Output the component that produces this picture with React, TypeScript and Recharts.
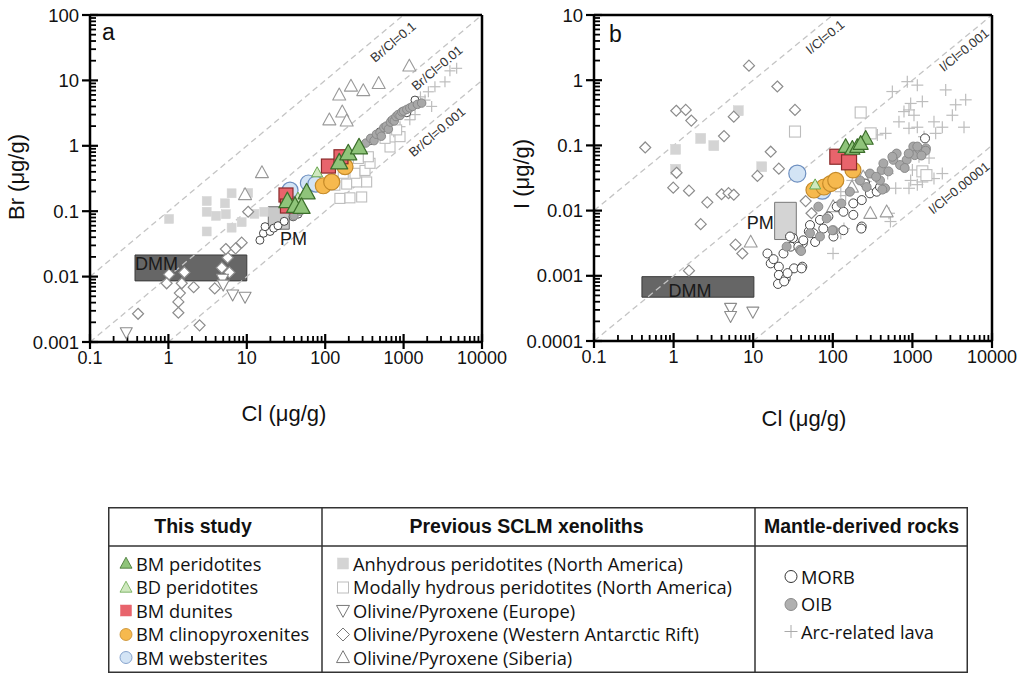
import React from 'react';
import { ScatterChart, Scatter, XAxis, YAxis, ReferenceLine, ReferenceArea, ReferenceDot } from 'recharts';

type Pair = [number, number];

// ---------- Panel a: Br vs Cl ----------
const aBMPeridotites: Pair[] = [[32.9, 0.143], [41.2, 0.121], [58, 0.195], [151, 0.56], [197, 0.77], [270, 0.95], [50, 0.117]];
const aBDPeridotites: Pair[] = [[79, 0.39], [45, 0.16]];
const aBMDunites: Pair[] = [[110, 0.49], [159, 0.68], [31.6, 0.177], [33, 0.12]];
const aBMClinopyroxenites: Pair[] = [[94.6, 0.245], [121, 0.28], [179, 0.48]];
const aBMWebsterites: Pair[] = [[35.6, 0.21], [61, 0.27], [76, 0.26]];
const aAnhydrous: Pair[] = [[1.02, 0.076], [3.08, 0.143], [3.08, 0.098], [4.05, 0.085], [5.27, 0.132], [5.4, 0.09], [6.4, 0.188], [10.4, 0.19], [3.08, 0.049], [6.4, 0.056], [8.6, 0.068], [12.5, 0.091], [16.7, 0.098]];
const aHydrous: Pair[] = [[154, 0.157], [207, 0.16], [292, 0.165], [133, 0.25], [188, 0.26], [252, 0.28], [338, 0.28], [170, 0.38], [240, 0.38], [322, 0.42], [373, 0.54], [265, 0.64], [355, 0.68], [671, 0.96], [580, 1.3], [900, 1.38], [815, 1.75]];
const aEurope: Pair[] = [[0.29, 0.0014], [4.9, 0.0092], [5.0, 0.0075], [6.6, 0.0053], [9.5, 0.0049]];
const aAntarctic: Pair[] = [[1.02, 0.0108], [1.6, 0.0116], [0.95, 0.0079], [1.48, 0.0079], [2.1, 0.0069], [1.4, 0.0056], [1.34, 0.0041], [1.34, 0.0028], [0.41, 0.0027], [2.5, 0.0018], [3.9, 0.0066], [4.8, 0.0137], [6.0, 0.0116], [5.7, 0.0195], [5.4, 0.0264], [7.2, 0.027], [8.6, 0.033], [10.4, 0.098]];
const aSiberia: Pair[] = [[1183, 16.6], [151, 6.0], [213, 8.2], [306, 7.0], [481, 9.0], [165, 3.3], [113, 2.5], [188, 2.4], [15.6, 0.39], [9.5, 0.18]];
const aMORB: Pair[] = [[14.7, 0.036], [16.3, 0.046], [19.8, 0.049], [17.1, 0.058], [22, 0.055], [25, 0.06], [30, 0.07], [39, 0.082], [45, 0.09], [380, 1.2], [500, 1.64], [700, 2.4], [900, 2.96], [1100, 3.2], [1396, 5.0]];
const aOIB: Pair[] = [[40, 0.085], [48, 0.1], [330, 1.1], [380, 1.3], [420, 1.2], [450, 1.5], [500, 1.6], [520, 1.4], [560, 1.9], [600, 2.0], [640, 1.8], [680, 2.3], [720, 2.5], [760, 2.4], [800, 2.8], [850, 3.0], [900, 2.9], [950, 3.3], [1000, 3.4], [1100, 3.6], [1200, 3.8], [1300, 4.0], [1500, 4.3], [1700, 4.5]];
const aArc: Pair[] = [[4750, 15.3], [3900, 14], [3370, 9.5], [2510, 8.0], [2280, 4.0], [1875, 5.0], [1640, 5.6], [900, 1.96], [750, 1.64], [2070, 6.7], [1200, 2.5], [1400, 3.0]];

// ---------- Panel b: I vs Cl ----------
const bBMPeridotites: Pair[] = [[145, 0.096], [176, 0.09], [203, 0.096], [259, 0.128], [224, 0.107]];
const bBDPeridotites: Pair[] = [[60, 0.025]];
const bBMDunites: Pair[] = [[114, 0.067], [160, 0.055]];
const bBMClinopyroxenites: Pair[] = [[58, 0.0207], [77.5, 0.023], [94, 0.026], [109, 0.029], [179, 0.042]];
const bBMWebsterites: Pair[] = [[35.8, 0.037], [73.8, 0.0202]];
const bAnhydrous: Pair[] = [[1.06, 0.087], [1.06, 0.043], [2.19, 0.128], [3.2, 0.099], [6.5, 0.34], [12.8, 0.047]];
const bHydrous: Pair[] = [[33.5, 0.163], [224, 0.32], [299, 0.153], [1334, 0.04], [1500, 0.035]];
const bEurope: Pair[] = [[5.2, 0.00032], [5.2, 0.00024], [9.9, 0.00028]];
const bAntarctic: Pair[] = [[0.44, 0.093], [1.08, 0.34], [1.42, 0.35], [1.67, 0.24], [1.09, 0.038], [0.99, 0.0225], [1.56, 0.0202], [2.65, 0.0134], [2.19, 0.0062], [4.0, 0.0178], [4.9, 0.0185], [5.7, 0.0175], [5.7, 0.276], [4.3, 0.139], [8.85, 1.67], [20.1, 0.8], [33.5, 0.35], [16.6, 0.08], [21, 0.044], [11.3, 0.034], [45.6, 0.014], [54, 0.0091], [6.0, 0.003], [7.3, 0.0022], [1.56, 0.0012]];
const bSiberia: Pair[] = [[9.3, 0.0033], [475, 0.0096], [241, 0.033], [101, 0.0115], [296, 0.0091], [174, 0.023]];
const bMORB: Pair[] = [[15.1, 0.0022], [16.6, 0.00155], [21, 0.00138], [21, 0.00103], [25.6, 0.00091], [20.5, 0.00075], [24.5, 0.00082], [32.6, 0.0013], [29.6, 0.0028], [31.6, 0.0038], [41.4, 0.00138], [42, 0.00315], [50, 0.0048], [24, 0.0022], [29, 0.004], [36.9, 0.0028], [42.6, 0.0035], [57, 0.0045], [51.7, 0.006], [69, 0.0072], [88, 0.0081], [112, 0.0115], [136, 0.0096], [181, 0.0129], [231, 0.0145], [293, 0.0184], [356, 0.0195], [254, 0.026], [392, 0.023], [1440, 0.128], [231, 0.0057], [181, 0.0086], [136, 0.005], [102, 0.004], [76, 0.0053], [60, 0.0033], [40.5, 0.0013], [228, 0.0053], [18, 0.0018], [27, 0.0011]];
const bOIB: Pair[] = [[26.3, 0.0028], [38.7, 0.0025], [65.8, 0.0115], [83.7, 0.0076], [102, 0.005], [128, 0.0129], [164, 0.0195], [220, 0.029], [293, 0.037], [411, 0.042], [432, 0.053], [576, 0.06], [634, 0.075], [847, 0.06], [1027, 0.096], [1070, 0.071], [1242, 0.085], [1480, 0.09], [392, 0.029], [453, 0.022], [266, 0.023], [69, 0.004], [51.7, 0.0045], [419, 0.021], [560, 0.067], [1153, 0.096], [1468, 0.083], [40, 0.0024], [98.6, 0.005], [700, 0.05], [900, 0.075], [800, 0.045], [1300, 0.07], [350, 0.033], [500, 0.04]];
const bArc: Pair[] = [[863, 0.95], [1153, 0.84], [560, 0.67], [2620, 0.71], [951, 0.44], [1333, 0.47], [906, 0.35], [1047, 0.29], [784, 0.33], [678, 0.23], [906, 0.183], [1153, 0.19], [1867, 0.23], [2376, 0.19], [3496, 0.42], [4670, 0.5], [3176, 0.29], [4450, 0.19], [363, 0.145], [461, 0.153], [1400, 0.136], [1960, 0.153], [1210, 0.067], [1618, 0.064], [2376, 0.037], [1867, 0.031], [951, 0.029], [1153, 0.025], [617, 0.022], [906, 0.022], [1333, 0.0275], [1465, 0.037], [1000, 0.042], [489, 0.037], [176, 0.029], [126, 0.0195], [145, 0.017], [508, 0.0091], [530, 0.0068], [100.7, 0.0022], [126, 0.0045], [138, 0.0053], [259, 0.028]];

// ---------- Axis ticks ----------
const xMajor = [0.1, 1, 10, 100, 1000, 10000];
const yMajorA = [0.001, 0.01, 0.1, 1, 10, 100];
const yMajorB = [0.0001, 0.001, 0.01, 0.1, 1, 10];
const minorSteps = [2, 3, 4, 5, 6, 7, 8, 9];
const minorOf = (maj: number[]) => {
  const out: number[] = [];
  maj.forEach((m, i) => {
    if (i < maj.length - 1) minorSteps.forEach((k) => out.push(parseFloat((m * k).toPrecision(6))));
  });
  return out;
};

const FONT = '"Liberation Sans", Arial, Helvetica, sans-serif';
const LEG_FONT = '"Open Sans", "Noto Sans", sans-serif';

const toPts = (a: Pair[]) => a.map(([x, y]) => ({ x, y }));

type Kind = 'tri' | 'itri' | 'sq' | 'dia' | 'circ' | 'plus';
type Sty = { kind: Kind; s: number; fill: string; stroke: string; sw: number };

function glyph(st: Sty, cx: number, cy: number, key?: any) {
  const h = st.s / 2;
  const common = { fill: st.fill, stroke: st.stroke, strokeWidth: st.sw };
  switch (st.kind) {
    case 'circ':
      return <circle key={key} cx={cx} cy={cy} r={h} {...common} />;
    case 'sq':
      return <rect key={key} x={cx - h} y={cy - h} width={st.s} height={st.s} {...common} />;
    case 'tri':
      return <polygon key={key} points={`${cx},${cy - h * 1.05} ${cx + h},${cy + h * 0.78} ${cx - h},${cy + h * 0.78}`} {...common} strokeLinejoin="round" />;
    case 'itri':
      return <polygon key={key} points={`${cx},${cy + h * 1.05} ${cx + h},${cy - h * 0.78} ${cx - h},${cy - h * 0.78}`} {...common} strokeLinejoin="round" />;
    case 'dia':
      return <polygon key={key} points={`${cx},${cy - h} ${cx + h},${cy} ${cx},${cy + h} ${cx - h},${cy}`} {...common} />;
    case 'plus':
    default:
      return (
        <g key={key} stroke={st.stroke} strokeWidth={st.sw}>
          <line x1={cx - h} x2={cx + h} y1={cy} y2={cy} />
          <line x1={cx} x2={cx} y1={cy - h} y2={cy + h} />
        </g>
      );
  }
}

const mkShape = (st: Sty) => (props: any) => {
  const { cx, cy } = props;
  if (cx == null || cy == null || isNaN(cx) || isNaN(cy)) return <g />;
  return glyph(st, cx, cy);
};

// styles
const C = {
  bmPerid: { fill: '#8fc47a', stroke: '#3b6e2a' },
  bdPerid: { fill: '#cfe8bf', stroke: '#6aa84f' },
  dunite: { fill: '#e8646c', stroke: '#8a2a2a' },
  clino: { fill: '#f6b94e', stroke: '#c58a28' },
  webs: { fill: '#d3e4f5', stroke: '#6d8fc0' },
  anhyd: { fill: '#d4d4d4', stroke: '#d4d4d4' },
  hydr: { fill: '#ffffff', stroke: '#bdbdbd' },
  europe: { fill: '#ffffff', stroke: '#8c8c8c' },
  ant: { fill: '#ffffff', stroke: '#8c8c8c' },
  sib: { fill: '#ffffff', stroke: '#999999' },
  morb: { fill: '#ffffff', stroke: '#333333' },
  oib: { fill: '#a8a8a8', stroke: '#858585' },
  arc: { fill: 'none', stroke: '#bdbdbd' },
};

const fmt = (v: number) => {
  const e = Math.round(Math.log10(v));
  return e >= 0 ? String(Math.pow(10, e)) : '0.' + '0'.repeat(-e - 1) + '1';
};

const XTickLabel = (p: any) => {
  const { x, y, payload } = p;
  return (
    <text x={x} y={y + 9} textAnchor="middle" dominantBaseline="central" fontSize={18} fontFamily={FONT} fill="#111">
      {fmt(payload.value)}
    </text>
  );
};

const YTickLabel = (p: any) => {
  const { x, y, payload } = p;
  return (
    <text x={x - 4} y={y} textAnchor="end" dominantBaseline="central" fontSize={18.5} fontFamily={FONT} fill="#111">
      {fmt(payload.value)}
    </text>
  );
};

const textShape = (text: string, opts: { angle?: number; anchor?: string; size?: number; fill?: string; base?: string }) => (props: any) => {
  const { cx, cy } = props;
  if (cx == null || cy == null) return <g />;
  const a = opts.angle || 0;
  return (
    <text
      x={cx}
      y={cy}
      transform={a ? `rotate(${a} ${cx} ${cy})` : undefined}
      textAnchor={(opts.anchor as any) || 'middle'}
      dominantBaseline={(opts.base as any) || 'central'}
      fontSize={opts.size || 13}
      fontFamily={FONT}
      fill={opts.fill || '#333'}
    >
      {text}
    </text>
  );
};

type SeriesDef = { data: Pair[]; st: Sty };

const CHART_W = 512;
const CHART_H = 430;
const YAXIS_W = 80;
const XAXIS_H = 60;
const X_DOMAIN: [number, number] = [0.1, 10000];

const Panel = (props: {
  margin: any;
  yMajor: number[];
  yDomain: [number, number];
  series: SeriesDef[];
  lines: { a: Pair; b: Pair }[];
  labels: { x: number; y: number; text: string; angle?: number; anchor?: string; size?: number; fill?: string; base?: string }[];
  dmm: [number, number, number, number];
  pm: [number, number, number, number];
  pmFill: string;
  pmStroke: string;
}) => {
  const m = props.margin;
  const plotW = CHART_W - m.left - YAXIS_W - m.right;
  const plotH = CHART_H - m.top - m.bottom - XAXIS_H;
  // pixels per decade, so tick lengths can be given in pixels
  const ppdX = plotW / Math.log10(X_DOMAIN[1] / X_DOMAIN[0]);
  const ppdY = plotH / Math.log10(props.yDomain[1] / props.yDomain[0]);
  const yAt = (px: number) => props.yDomain[0] * Math.pow(10, px / ppdY);
  const xAt = (px: number) => X_DOMAIN[0] * Math.pow(10, px / ppdX);
  const xMinor = minorOf(xMajor);
  const yMinor = minorOf(props.yMajor);
  const tickSegs: { seg: { x: number; y: number }[]; w: number }[] = [];
  xMajor.forEach((v) => tickSegs.push({ seg: [{ x: v, y: yAt(-7) }, { x: v, y: yAt(8) }], w: 2.2 }));
  xMinor.forEach((v) => tickSegs.push({ seg: [{ x: v, y: yAt(0) }, { x: v, y: yAt(6) }], w: 1.8 }));
  props.yMajor.forEach((v) => tickSegs.push({ seg: [{ x: xAt(-8), y: v }, { x: xAt(8), y: v }], w: 2.2 }));
  yMinor.forEach((v) => tickSegs.push({ seg: [{ x: xAt(0), y: v }, { x: xAt(6), y: v }], w: 1.8 }));

  return (
    <ScatterChart width={CHART_W} height={CHART_H} margin={m}>
      <XAxis
        type="number"
        dataKey="x"
        scale="log"
        domain={X_DOMAIN}
        allowDataOverflow
        ticks={xMajor}
        interval={0}
        tickSize={7}
        tickMargin={0}
        tickLine={false}
        tick={(p: any) => <XTickLabel {...p} />}
        axisLine={{ stroke: '#000', strokeWidth: 2.5 }}
        height={XAXIS_H}
      />
      <YAxis
        type="number"
        dataKey="y"
        scale="log"
        domain={props.yDomain}
        allowDataOverflow
        ticks={props.yMajor}
        interval={0}
        tickSize={7}
        tickMargin={0}
        tickLine={false}
        tick={(p: any) => <YTickLabel {...p} />}
        axisLine={{ stroke: '#000', strokeWidth: 2.5 }}
        width={YAXIS_W}
      />
      {props.lines.map((l, i) => (
        <ReferenceLine
          key={'l' + i}
          segment={[{ x: l.a[0], y: l.a[1] }, { x: l.b[0], y: l.b[1] }]}
          stroke="#c4c4c4"
          strokeWidth={1.3}
          strokeDasharray="6 4"
        />
      ))}
      <ReferenceArea x1={props.dmm[0]} x2={props.dmm[1]} y1={props.dmm[2]} y2={props.dmm[3]} fill="#666666" fillOpacity={1} stroke="#3a3a3a" strokeWidth={1} />
      {props.series.map((s, i) => (
        <Scatter key={'s' + i} data={toPts(s.data)} shape={mkShape(s.st)} isAnimationActive={false} />
      ))}
      <ReferenceArea x1={props.pm[0]} x2={props.pm[1]} y1={props.pm[2]} y2={props.pm[3]} fill={props.pmFill} fillOpacity={0.95} stroke={props.pmStroke} strokeWidth={1} />
      {props.labels.map((l, i) => (
        <ReferenceDot key={'t' + i} x={l.x} y={l.y} r={0} shape={textShape(l.text, l)} />
      ))}
      {tickSegs.map((t, i) => (
        <ReferenceLine key={'k' + i} segment={t.seg} stroke="#000" strokeWidth={t.w} ifOverflow="visible" />
      ))}
      <ReferenceLine y={props.yDomain[1]} stroke="#000" strokeWidth={2.5} />
      <ReferenceLine x={X_DOMAIN[1]} stroke="#000" strokeWidth={2.5} />
    </ScatterChart>
  );
};

const sty = (kind: Kind, s: number, c: { fill: string; stroke: string }, sw = 1): Sty => ({ kind, s, fill: c.fill, stroke: c.stroke, sw });

const seriesA: SeriesDef[] = [
  { data: aArc, st: sty('plus', 11, C.arc, 1.2) },
  { data: aHydrous, st: sty('sq', 10, C.hydr, 1.1) },
  { data: aAnhydrous, st: sty('sq', 9, C.anhyd, 0.5) },
  { data: aAntarctic, st: sty('dia', 11, C.ant, 1.2) },
  { data: aEurope, st: sty('itri', 12, C.europe, 1.1) },
  { data: aSiberia, st: sty('tri', 13, C.sib, 1.1) },
  { data: aMORB, st: sty('circ', 8, C.morb, 0.9) },
  { data: aOIB, st: sty('circ', 8.5, C.oib, 0.9) },
  { data: aBMWebsterites, st: sty('circ', 16, C.webs, 1.2) },
  { data: aBMClinopyroxenites, st: sty('circ', 16, C.clino, 1.2) },
  { data: aBMDunites, st: sty('sq', 14, C.dunite, 1.2) },
  { data: aBDPeridotites, st: sty('tri', 11, C.bdPerid, 1) },
  { data: aBMPeridotites, st: sty('tri', 17, C.bmPerid, 1.2) },
];

const seriesB: SeriesDef[] = [
  { data: bArc, st: sty('plus', 12, C.arc, 1.2) },
  { data: bHydrous, st: sty('sq', 11, C.hydr, 1.1) },
  { data: bAnhydrous, st: sty('sq', 10, C.anhyd, 0.5) },
  { data: bAntarctic, st: sty('dia', 11, C.ant, 1.2) },
  { data: bEurope, st: sty('itri', 12, C.europe, 1.1) },
  { data: bSiberia, st: sty('tri', 13, C.sib, 1.1) },
  { data: bMORB, st: sty('circ', 9, C.morb, 0.9) },
  { data: bOIB, st: sty('circ', 9, C.oib, 0.9) },
  { data: bBMWebsterites, st: sty('circ', 17, C.webs, 1.2) },
  { data: bBMClinopyroxenites, st: sty('circ', 16, C.clino, 1.2) },
  { data: bBDPeridotites, st: sty('tri', 11, C.bdPerid, 1) },
  { data: bBMDunites, st: sty('sq', 15, C.dunite, 1.2) },
  { data: bBMPeridotites, st: sty('tri', 15, C.bmPerid, 1.2) },
];

const linesA = [
  { a: [0.1, 0.01] as Pair, b: [1000, 100] as Pair },
  { a: [0.1, 0.001] as Pair, b: [10000, 100] as Pair },
  { a: [1, 0.001] as Pair, b: [10000, 10] as Pair },
];
const linesB = [
  { a: [0.1, 0.01] as Pair, b: [100, 10] as Pair },
  { a: [0.1, 0.0001] as Pair, b: [10000, 10] as Pair },
  { a: [10, 0.0001] as Pair, b: [10000, 0.1] as Pair },
];

const labelsA = [
  { x: 733, y: 38.6, text: 'Br/Cl=0.1', angle: -40, size: 13 },
  { x: 2667, y: 15.5, text: 'Br/Cl=0.01', angle: -40, size: 13 },
  { x: 2667, y: 1.63, text: 'Br/Cl=0.001', angle: -40, size: 13 },
  { x: 0.375, y: 0.0128, text: 'DMM', anchor: 'start', size: 18, fill: '#1a1a1a', base: 'auto' },
  { x: 26.5, y: 0.0304, text: 'PM', anchor: 'start', size: 18, fill: '#1a1a1a', base: 'auto' },
  { x: 0.142, y: 41.5, text: 'a', anchor: 'start', size: 23, fill: '#111', base: 'auto' },
];
const labelsB = [
  { x: 80, y: 4.6, text: 'I/Cl=0.1', angle: -39, size: 13 },
  { x: 4446, y: 2.9, text: 'I/Cl=0.001', angle: -39, size: 13 },
  { x: 3846, y: 0.0222, text: 'I/Cl=0.00001', angle: -39, size: 13 },
  { x: 1.61, y: 0.000475, text: 'DMM', anchor: 'middle', size: 18, fill: '#1a1a1a', base: 'auto' },
  { x: 18.1, y: 0.00516, text: 'PM', anchor: 'end', size: 18, fill: '#1a1a1a', base: 'auto' },
  { x: 0.154, y: 3.9, text: 'b', anchor: 'start', size: 23, fill: '#111', base: 'auto' },
];

// ---------- Legend ----------
const legendThisStudy = ['BM peridotites', 'BD peridotites', 'BM dunites', 'BM clinopyroxenites', 'BM websterites'];
const legendPrevious = ['Anhydrous peridotites (North America)', 'Modally hydrous peridotites (North America)', 'Olivine/Pyroxene (Europe)', 'Olivine/Pyroxene (Western Antarctic Rift)', 'Olivine/Pyroxene (Siberia)'];
const legendMantle = ['MORB', 'OIB', 'Arc-related lava'];
const legendHeaders = ['This study', 'Previous SCLM xenoliths', 'Mantle-derived rocks'];

const legSty1: Sty[] = [sty('tri', 12, C.bmPerid, 0.8), sty('tri', 12, C.bdPerid, 0.8), sty('sq', 11, { fill: '#e8646c', stroke: '#e8646c' }, 0.5), sty('circ', 12, C.clino, 0.8), sty('circ', 12, C.webs, 0.8)];
const legSty2: Sty[] = [sty('sq', 11, C.anhyd, 0.5), sty('sq', 11, C.hydr, 1), sty('itri', 13, { fill: '#fff', stroke: '#777' }, 1), sty('dia', 13, { fill: '#fff', stroke: '#777' }, 1), sty('tri', 13, { fill: '#fff', stroke: '#777' }, 1)];
const legSty3: Sty[] = [sty('circ', 12, { fill: '#fff', stroke: '#333' }, 1), sty('circ', 12, { fill: '#b0b0b0', stroke: '#8a8a8a' }, 1), sty('plus', 13, { fill: 'none', stroke: '#aaa' }, 1)];

const LegendItem = (p: { st: Sty; text: string; left: number; top: number }) => (
  <div style={{ position: 'absolute', left: p.left, top: p.top - 12, height: 24, display: 'flex', alignItems: 'center', whiteSpace: 'nowrap' }}>
    <svg width={16} height={16} style={{ display: 'block' }}>
      {glyph(p.st, 8, 8.5)}
    </svg>
    <span style={{ marginLeft: 2, fontFamily: LEG_FONT, fontSize: 18.3, color: '#111' }}>{p.text}</span>
  </div>
);

const Legend = () => {
  const W = 860;
  const H = 166;
  const c1 = 214;
  const c2 = 647;
  const hdr = 39;
  return (
    <div style={{ position: 'absolute', left: 108, top: 507, width: W, height: H, boxSizing: 'border-box' }}>
      <svg width={W} height={H} style={{ position: 'absolute', left: 0, top: 0 }}>
        <rect x={0.75} y={0.75} width={W - 1.5} height={H - 1.5} fill="none" stroke="#333" strokeWidth={1.5} />
        <line x1={0} x2={W} y1={hdr} y2={hdr} stroke="#333" strokeWidth={1.5} />
        <line x1={c1} x2={c1} y1={0} y2={H} stroke="#333" strokeWidth={1.5} />
        <line x1={c2} x2={c2} y1={0} y2={H} stroke="#333" strokeWidth={1.5} />
      </svg>
      {[
        [0, c1 - 24],
        [c1, c2 - c1 - 24],
        [c2, W - c2],
      ].map(([l, w], i) => (
        <div
          key={i}
          style={{ position: 'absolute', left: l, top: 0, width: w, height: hdr, display: 'flex', alignItems: 'center', justifyContent: 'center', fontFamily: FONT, fontWeight: 'bold', fontSize: 19.5, color: '#111', whiteSpace: 'nowrap' }}
        >
          {legendHeaders[i]}
        </div>
      ))}
      {legendThisStudy.map((t, i) => (
        <LegendItem key={'a' + i} st={legSty1[i]} text={t} left={10} top={56 + i * 23.5} />
      ))}
      {legendPrevious.map((t, i) => (
        <LegendItem key={'b' + i} st={legSty2[i]} text={t} left={c1 + 13} top={56 + i * 23.5} />
      ))}
      {legendMantle.map((t, i) => (
        <LegendItem key={'c' + i} st={legSty3[i]} text={t} left={c2 + 28} top={69 + i * 27.5} />
      ))}
    </div>
  );
};

export default function App() {
  return (
    <div style={{ position: 'absolute', left: 0, top: 0, width: 1024, height: 680, background: '#fff' }}>
      <div style={{ position: 'absolute', left: 0, top: 0 }}>
        <Panel
          margin={{ top: 15, right: 30, bottom: 28, left: 10 }}
          yMajor={yMajorA}
          yDomain={[0.001, 100]}
          series={seriesA}
          lines={linesA}
          labels={labelsA}
          dmm={[0.375, 10, 0.0086, 0.0214]}
          pm={[18.8, 34.8, 0.053, 0.117]}
          pmFill="#c6c6c6"
          pmStroke="#6a6a6a"
        />
      </div>
      <div style={{ position: 'absolute', left: 512, top: 0 }}>
        <Panel
          margin={{ top: 15, right: 32, bottom: 29, left: 2 }}
          yMajor={yMajorB}
          yDomain={[0.0001, 10]}
          series={seriesB}
          lines={linesB}
          labels={labelsB}
          dmm={[0.4, 10.2, 0.00047, 0.00097]}
          pm={[18.6, 34.8, 0.0036, 0.0134]}
          pmFill="#d2d2d2"
          pmStroke="#777"
        />
      </div>
      <svg width={1024} height={440} style={{ position: 'absolute', left: 0, top: 0, pointerEvents: 'none' }}>
        <text x={16} y={177} transform="rotate(-90 16 177)" textAnchor="middle" dominantBaseline="central" fontSize={22} fontFamily={FONT} fill="#111">
          Br (μg/g)
        </text>
        <text x={284} y={413} textAnchor="middle" dominantBaseline="central" fontSize={22} fontFamily={FONT} fill="#111">
          Cl (μg/g)
        </text>
        <text x={521} y={174} transform="rotate(-90 521 174)" textAnchor="middle" dominantBaseline="central" fontSize={22} fontFamily={FONT} fill="#111">
          I (μg/g)
        </text>
        <text x={804} y={418} textAnchor="middle" dominantBaseline="central" fontSize={22} fontFamily={FONT} fill="#111">
          Cl (μg/g)
        </text>
      </svg>
      <Legend />
    </div>
  );
}
